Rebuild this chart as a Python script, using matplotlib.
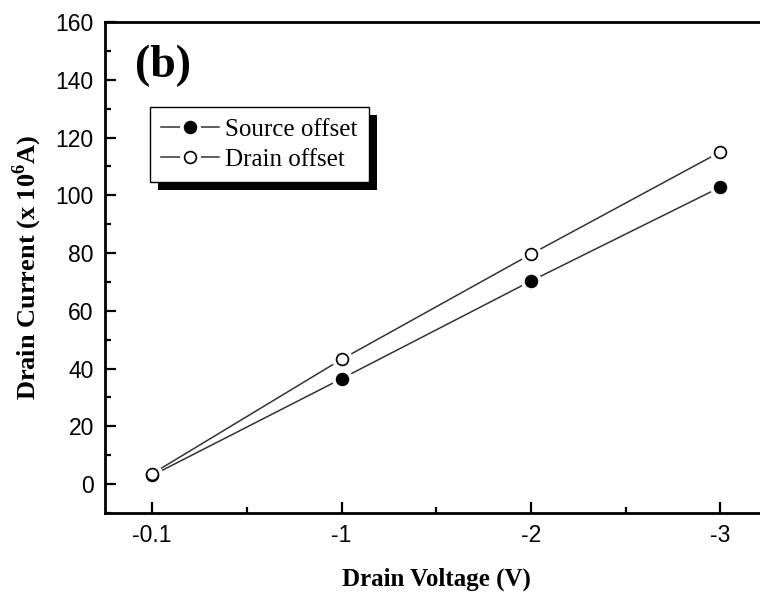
import matplotlib

matplotlib.use("Agg")

import matplotlib.pyplot as plt
import matplotlib.patheffects as pe
from matplotlib.ticker import MultipleLocator

voltage_labels = ["-0.1", "-1", "-2", "-3"]
source_offset = [3.0, 36.5, 70.3, 102.8]
drain_offset = [3.6, 43.2, 79.6, 115.0]

SERIF = "Liberation Serif"
SANS = "Liberation Sans"

plt.rcParams["mathtext.fontset"] = "custom"
plt.rcParams["mathtext.rm"] = SERIF
plt.rcParams["mathtext.bf"] = SERIF + ":bold"

fig = plt.figure(figsize=(7.6, 5.94), dpi=100)
ax = fig.add_axes([0.138, 0.1364, 0.872, 0.8266])

x = list(range(len(voltage_labels)))

# line, then a white halo so the line stops short of each symbol, then the symbol
handles = []
for vals, face in ((source_offset, "black"), (drain_offset, "white")):
    ln, = ax.plot(x, vals, color="#333333", lw=1.1, zorder=2)
    halo, = ax.plot(x, vals, ls="none", marker="o", ms=14, mfc="white", mec="white", zorder=3)
    mk, = ax.plot(x, vals, ls="none", marker="o", ms=8.5, mfc=face, mec="black", mew=1.2, zorder=4)
    handles.append((ln, halo, mk))

leg = ax.legend(handles, ["Source offset", "Drain offset"],
                loc="upper left", bbox_to_anchor=(0.068, 0.827),
                prop={"family": SERIF, "size": 18}, frameon=True, fancybox=False,
                framealpha=1, handlelength=2.3, handletextpad=0.25, borderpad=0.45,
                labelspacing=0.3, borderaxespad=0, numpoints=1)
frame = leg.get_frame()
frame.set_edgecolor("black")
frame.set_linewidth(1.0)
frame.set_path_effects([pe.SimplePatchShadow(offset=(6, -6), shadow_rgbFace="black", alpha=1),
                        pe.Normal()])

ax.set_xlim(-0.25, 3.25)
ax.set_ylim(-10, 160)
ax.set_xticks(x)
ax.set_xticklabels(voltage_labels)
ax.xaxis.set_minor_locator(MultipleLocator(0.5))
ax.yaxis.set_major_locator(MultipleLocator(20))
ax.yaxis.set_minor_locator(MultipleLocator(10))

ax.tick_params(which="both", direction="in", width=1.6, top=False, right=False)
ax.tick_params(which="major", length=8, pad=8, labelsize=16.5)
ax.tick_params(which="minor", length=4.5)
for lab in ax.get_xticklabels() + ax.get_yticklabels():
    lab.set_family(SANS)

for s in ax.spines.values():
    s.set_linewidth(2)

ax.set_xlabel("Drain Voltage (V)", family=SERIF, weight="bold", size=18, labelpad=15)
ax.set_ylabel("Drain Current (x 10$^{\\mathbf{6}}$A)", family=SERIF, weight="bold", size=19,
              labelpad=8)
ax.text(0.045, 0.953, "(b)", transform=ax.transAxes, family=SERIF, weight="bold",
        size=33, va="top", ha="left")

fig.savefig("out.png", dpi=100)
